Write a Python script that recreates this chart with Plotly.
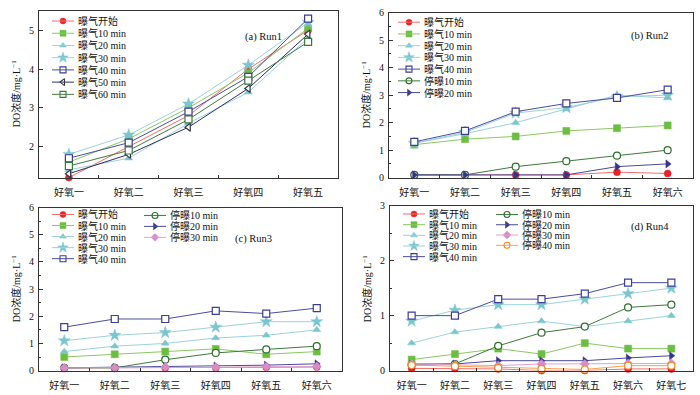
import plotly.graph_objects as go

W, H = 700, 395

# ---------------- data ----------------
cats_run1 = ['好氧一', '好氧二', '好氧三', '好氧四', '好氧五']
cats_run2 = ['好氧一', '好氧二', '好氧三', '好氧四', '好氧五', '好氧六']
cats_run3 = ['好氧一', '好氧二', '好氧三', '好氧四', '好氧五', '好氧六']
cats_run4 = ['好氧一', '好氧二', '好氧三', '好氧四', '好氧五', '好氧六', '好氧七']

run1_start = [1.2, 2.0, 2.8, 4.0, 5.0]
run1_10 = [1.6, 2.2, 3.0, 3.9, 5.05]
run1_20 = [1.4, 1.7, 2.6, 3.4, 4.8]
run1_30 = [1.8, 2.3, 3.1, 4.1, 5.2]
run1_40 = [1.7, 2.1, 2.9, 3.8, 5.3]
run1_50 = [1.3, 1.8, 2.5, 3.5, 4.9]
run1_60 = [1.5, 1.9, 2.7, 3.7, 4.7]

run2_start = [0.1, 0.1, 0.1, 0.1, 0.2, 0.15]
run2_10 = [1.2, 1.4, 1.5, 1.7, 1.8, 1.9]
run2_20 = [1.25, 1.6, 2.0, 2.5, 3.0, 2.9]
run2_30 = [1.25, 1.65, 2.35, 2.55, 2.95, 3.0]
run2_40 = [1.3, 1.7, 2.4, 2.7, 2.9, 3.2]
run2_stop10 = [0.1, 0.1, 0.4, 0.6, 0.8, 1.0]
run2_stop20 = [0.1, 0.1, 0.1, 0.1, 0.4, 0.5]

run3_start = [0.1, 0.1, 0.1, 0.1, 0.12, 0.13]
run3_10 = [0.5, 0.6, 0.7, 0.8, 0.6, 0.7]
run3_20 = [0.7, 0.9, 1.0, 1.2, 1.3, 1.5]
run3_30 = [1.1, 1.3, 1.4, 1.6, 1.8, 1.8]
run3_40 = [1.6, 1.9, 1.9, 2.2, 2.1, 2.3]
run3_stop10 = [0.1, 0.1, 0.4, 0.65, 0.78, 0.9]
run3_stop20 = [0.1, 0.12, 0.15, 0.17, 0.2, 0.25]
run3_stop30 = [0.1, 0.1, 0.12, 0.12, 0.14, 0.15]

run4_start = [0.04, 0.04, 0.03, 0.0, 0.0, 0.03, 0.03]
run4_10 = [0.2, 0.3, 0.4, 0.3, 0.5, 0.4, 0.4]
run4_20 = [0.5, 0.7, 0.8, 0.9, 0.8, 0.9, 1.0]
run4_30 = [0.9, 1.1, 1.2, 1.2, 1.3, 1.4, 1.5]
run4_40 = [1.0, 1.0, 1.3, 1.3, 1.4, 1.6, 1.6]
run4_stop10 = [0.1, 0.12, 0.45, 0.69, 0.8, 1.15, 1.2]
run4_stop20 = [0.12, 0.12, 0.18, 0.18, 0.18, 0.23, 0.27]
run4_stop30 = [0.12, 0.1, 0.09, 0.12, 0.12, 0.13, 0.13]
run4_stop40 = [0.1, 0.08, 0.05, 0.03, 0.02, 0.09, 0.09]

# ---------------- styles ----------------
STY = {
    '曝气开始': dict(line='#F26D6A', mc='#E8222A', sym='circle', fill=None),
    '曝气10 min': dict(line='#8CC863', mc='#6BBE3F', sym='square', fill=None),
    '曝气20 min': dict(line='#9AD3DA', mc='#79C6CF', sym='triangle-up', fill=None),
    '曝气30 min': dict(line='#9AD3DA', mc='#79C6CF', sym='star', fill=None),
    '曝气40 min': dict(line='#4C4C9E', mc='#3D3D93', sym='square', fill='white'),
    '曝气50 min': dict(line='#2F2F6A', mc='#333344', sym='triangle-left', fill='white'),
    '曝气60 min': dict(line='#3F7D3F', mc='#3A7A3A', sym='square', fill='white'),
    '停曝10 min': dict(line='#3C7B3C', mc='#2F6F2F', sym='circle', fill='white'),
    '停曝20 min': dict(line='#4A4A9A', mc='#35358C', sym='triangle-right', fill=None),
    '停曝30 min': dict(line='#E0A0D0', mc='#D98CC6', sym='diamond', fill=None),
    '停曝40 min': dict(line='#F5A050', mc='#F08A2A', sym='circle', fill='white'),
}

FONT = 'Liberation Serif, "Times New Roman", "Noto Sans CJK SC", serif'

panels = [
    dict(name='a', cats=cats_run1, series=[('曝气开始', run1_start), ('曝气10 min', run1_10), ('曝气20 min', run1_20),
                                       ('曝气30 min', run1_30), ('曝气40 min', run1_40), ('曝气50 min', run1_50),
                                       ('曝气60 min', run1_60)],
         px=(39, 338), py=(5, 177), yr=[1.2, 5.5], dt=1, minor=False, label='(a) Run1', lab=(263, 32),
         legends=[(63, 15.5, 12.6, 7)]),
    dict(name='b', cats=cats_run2, series=[('曝气开始', run2_start), ('曝气10 min', run2_10), ('曝气20 min', run2_20),
                                       ('曝气30 min', run2_30), ('曝气40 min', run2_40), ('停曝10 min', run2_stop10),
                                       ('停曝20 min', run2_stop20)],
         px=(389, 693), py=(7, 177), yr=[0, 6], dt=1, minor=True, label='(b) Run2', lab=(650, 31),
         legends=[(409, 16.7, 12.1, 7)]),
    dict(name='c', cats=cats_run3, series=[('曝气开始', run3_start), ('曝气10 min', run3_10), ('曝气20 min', run3_20),
                                       ('曝气30 min', run3_30), ('曝气40 min', run3_40), ('停曝10 min', run3_stop10),
                                       ('停曝20 min', run3_stop20), ('停曝30 min', run3_stop30)],
         px=(39, 342), py=(208, 376), yr=[0, 6], dt=1, minor=True, label='(c) Run3', lab=(253, 240),
         legends=[(63, 215, 11.4, 5), (155, 216, 11.3, 3)]),
    dict(name='d', cats=cats_run4, series=[('曝气开始', run4_start), ('曝气10 min', run4_10), ('曝气20 min', run4_20),
                                       ('曝气30 min', run4_30), ('曝气40 min', run4_40), ('停曝10 min', run4_stop10),
                                       ('停曝20 min', run4_stop20), ('停曝30 min', run4_stop30), ('停曝40 min', run4_stop40)],
         px=(390, 693), py=(206, 376), yr=[0, 3], dt=1, minor=True, label='(d) Run4', lab=(650, 228),
         legends=[(414, 214.5, 11.0, 5), (507, 215, 10.6, 4)]),
]

fig = go.Figure()
layout = dict(width=W, height=H, margin=dict(l=0, r=0, t=0, b=0), paper_bgcolor='white',
              plot_bgcolor='rgba(0,0,0,0)', showlegend=False, font=dict(family=FONT, size=10, color='#111'))
annotations = []
shapes = []

for i, p in enumerate(panels):
    k = '' if i == 0 else str(i + 1)
    xa, ya = 'x' + k, 'y' + k
    n = len(p['cats'])
    layout['xaxis' + k] = dict(domain=[p['px'][0] / W, p['px'][1] / W], anchor=ya, type='category',
                               range=[-0.5, n - 0.5], showline=True, linecolor='#333', linewidth=1, mirror=True,
                               ticks='inside', tickson='boundaries', ticklen=3, tickcolor='#333',
                               showgrid=False, zeroline=False, tickfont=dict(size=10, family=FONT),
                               ticklabelstandoff=5)
    ya_d = dict(domain=[1 - p['py'][1] / H, 1 - p['py'][0] / H], anchor=xa, range=p['yr'], dtick=p['dt'],
                showline=True, linecolor='#333', linewidth=1, mirror=True, ticks='inside', ticklen=4,
                tickcolor='#333', showgrid=False, zeroline=False, tickfont=dict(size=10, family=FONT),
                ticklabelstandoff=2)
    if p['minor']:
        ya_d['minor'] = dict(ticks='inside', ticklen=2, dtick=0.5, tickcolor='#333', showgrid=False)
    layout['yaxis' + k] = ya_d

    for name, vals in p['series']:
        s = STY[name]
        fig.add_trace(go.Scatter(x=p['cats'], y=vals, mode='lines+markers', name=name, xaxis=xa, yaxis=ya,
                                 cliponaxis=False,
                                 line=dict(color=s['line'], width=1),
                                 marker=dict(symbol=s['sym'], size=7 if s['sym'] != 'star' else 9,
                                             color=s['fill'] or s['mc'],
                                             line=dict(color=s['mc'], width=1.2 if s['fill'] else 0.5))))

    # panel label
    annotations.append(dict(x=p['lab'][0] / W, y=1 - p['lab'][1] / H, xref='paper', yref='paper',
                            text=p['label'], showarrow=False, font=dict(size=10.5, family=FONT),
                            xanchor='center', yanchor='middle'))
    # y title
    ycen = 1 - (p['py'][0] + p['py'][1]) / 2 / H
    annotations.append(dict(x=(p['px'][0] - 23) / W, y=ycen, xref='paper', yref='paper',
                            text='DO浓度/mg·L<sup>−1</sup>', textangle=-90, showarrow=False,
                            font=dict(size=10, family=FONT), xanchor='center', yanchor='middle'))

    # hand-built compact legends
    names = [nm for nm, _ in p['series']]
    idx = 0
    for (mx, y0, dy, cnt) in p['legends']:
        for j in range(cnt):
            nm = names[idx]
            idx += 1
            s = STY[nm]
            yy = y0 + j * dy
            shapes.append(dict(type='line', xref='paper', yref='paper', x0=(mx - 11) / W, x1=(mx + 11) / W,
                               y0=1 - yy / H, y1=1 - yy / H, line=dict(color=s['line'], width=1)))
            fig.add_trace(go.Scatter(x=[mx], y=[yy], mode='markers', xaxis='x9', yaxis='y9', hoverinfo='skip',
                                     marker=dict(symbol=s['sym'], size=6 if s['sym'] != 'star' else 8,
                                                 color=s['fill'] or s['mc'],
                                                 line=dict(color=s['mc'], width=1.1 if s['fill'] else 0.5))))
            annotations.append(dict(x=(mx + 13) / W, y=1 - yy / H, xref='paper', yref='paper', text=nm,
                                    showarrow=False, xanchor='left', yanchor='middle',
                                    font=dict(size=10, family=FONT)))

# overlay pixel axis for legend symbols
layout['xaxis9'] = dict(domain=[0, 1], range=[0, W], visible=False, anchor='y9', fixedrange=True)
layout['yaxis9'] = dict(domain=[0, 1], range=[H, 0], visible=False, anchor='x9', fixedrange=True)
layout['annotations'] = annotations
layout['shapes'] = shapes
fig.update_layout(**layout)

fig.write_html('out.html', config={'displayModeBar': False},
               post_script="document.body.style.margin='0px';document.body.style.overflow='hidden';")
